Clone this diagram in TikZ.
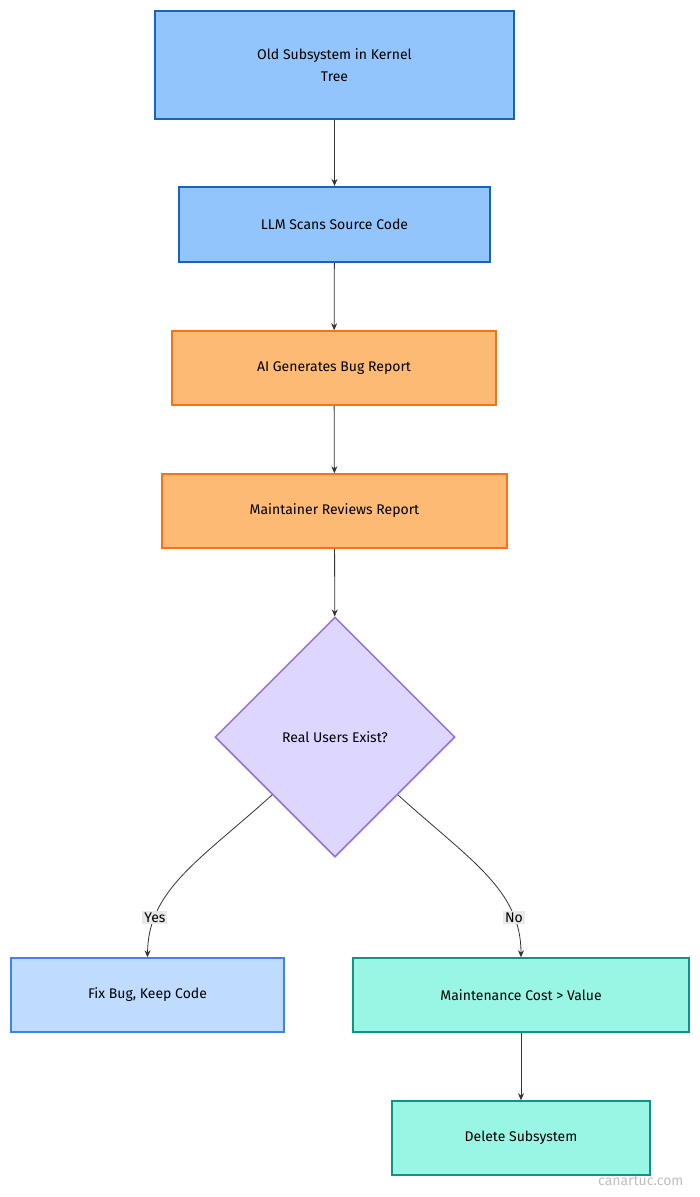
\documentclass[tikz,border=0pt]{standalone}
\usepackage{fontspec}
\setmainfont{Fira Sans}
\usetikzlibrary{shapes.geometric,arrows.meta}
\definecolor{bfill}{HTML}{93C5FD}\definecolor{bline}{HTML}{1565C0}
\definecolor{ofill}{HTML}{FDBA74}\definecolor{oline}{HTML}{F97316}
\definecolor{pfill}{HTML}{DDD6FE}\definecolor{pline}{HTML}{9370DB}
\definecolor{lfill}{HTML}{BFDBFE}\definecolor{lline}{HTML}{3B82F6}
\definecolor{tfill}{HTML}{99F6E4}\definecolor{tline}{HTML}{0D9488}
\begin{document}
\begin{tikzpicture}[x=1pt,y=-1pt,
 box/.style={draw,rectangle,inner sep=0pt,font=\fontsize{14}{22}\selectfont,align=center},
 blue/.style={box,fill=bfill,draw=bline,line width=2.2pt},
 orange/.style={box,fill=ofill,draw=oline,line width=1.5pt},
 lblue/.style={box,fill=lfill,draw=lline,line width=1.5pt},
 teal/.style={box,fill=tfill,draw=tline,line width=1.5pt},
 arr/.style={draw=black!80,line width=0.8pt,-{Stealth[length=7pt,width=6pt]}},
 lab/.style={fill=black!9,inner sep=2pt,font=\fontsize{14}{16}\selectfont}]
\useasboundingbox (0,0) rectangle (700,1197);
\node[blue,minimum width=359pt,minimum height=108pt] (a) at (334.5,65) {Old Subsystem in Kernel\\Tree};
\node[blue,minimum width=311pt,minimum height=75pt] (b) at (334.5,224.5) {LLM Scans Source Code};
\node[orange,minimum width=324pt,minimum height=74pt] (c) at (334,368) {AI Generates Bug Report};
\node[orange,minimum width=345pt,minimum height=74pt] (d) at (334.5,511) {Maintainer Reviews Report};
\node[diamond,draw=pline,fill=pfill,line width=1.5pt,minimum width=240pt,minimum height=240pt,inner sep=0pt,font=\fontsize{14}{16}\selectfont] (e) at (335,737) {Real Users Exist?};
\node[lblue,minimum width=273pt,minimum height=74pt] (f) at (147.5,995) {Fix Bug, Keep Code};
\node[teal,minimum width=336pt,minimum height=74pt] (g) at (521,995) {Maintenance Cost > Value};
\node[teal,minimum width=258pt,minimum height=74pt] (h) at (521,1138) {Delete Subsystem};
\draw[arr] (a) -- (b);
\draw[arr] (b) -- (c);
\draw[arr] (c) -- (d);
\draw[arr] (d) -- (e);
\coordinate (e1) at (272,795);
\coordinate (e2) at (398,795);
\draw[arr] (e1) .. controls (200,860) and (148,890) .. node[lab,pos=0.78]{Yes} (f.north);
\draw[arr] (e2) .. controls (470,860) and (521,890) .. node[lab,pos=0.78]{No} (g.north);
\draw[arr] (g) -- (h);
\node[text=black!25,font=\fontsize{14}{16}\selectfont,anchor=east] (w) at (687,1181) {canartuc.com};
\end{tikzpicture}
\end{document}
